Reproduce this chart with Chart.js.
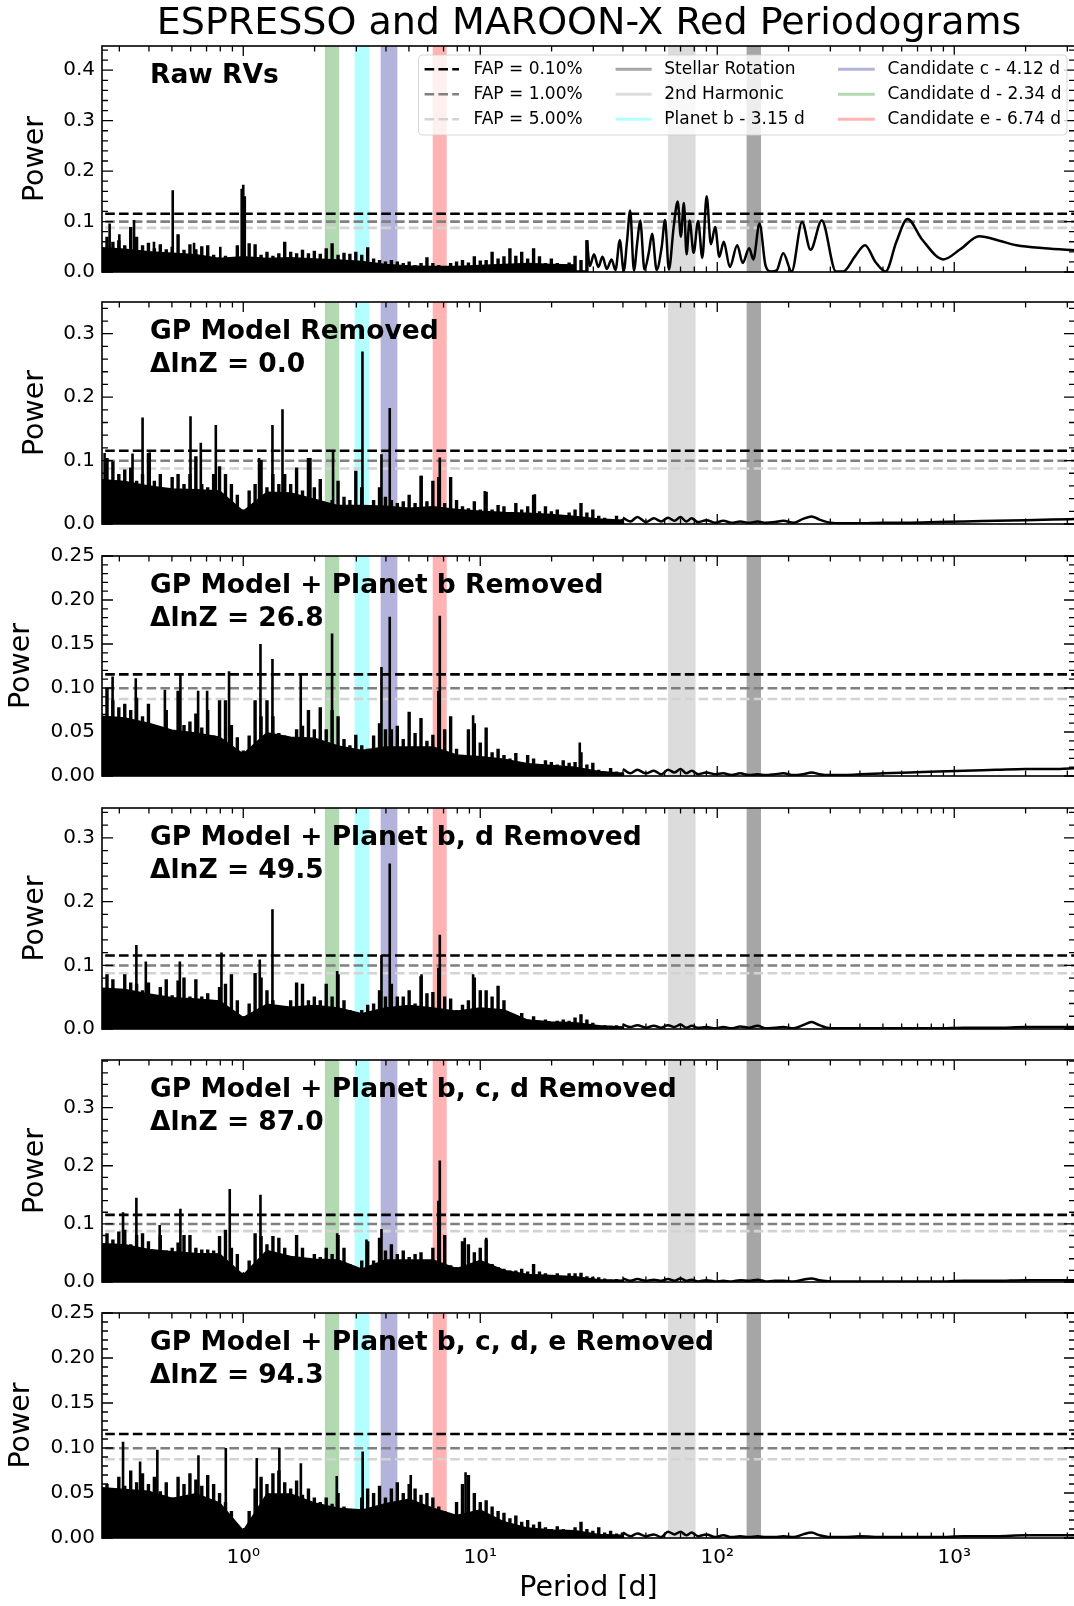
<!DOCTYPE html>
<html>
<head>
<meta charset="utf-8">
<script src="https://cdn.jsdelivr.net/npm/chart.js@4.4.1/dist/chart.umd.min.js"></script>
<style>
  html, body { margin: 0; padding: 0; background: #fff; width: 1074px; height: 1606px; overflow: hidden; }
  canvas { position: absolute; left: 0; }
</style>
</head>
<body>
<script>
// ---- data ----
const xMin = 0.2535, xMax = 3232;
const decadeTicks = [1, 10, 100, 1000];
const decadeLabels = ['10\u2070', '10\u00b9', '10\u00b2', '10\u00b3'];

const fapLevels = [0.1155, 0.0998, 0.0875];
const fapColors = ['#000000', '#808080', '#d3d3d3'];
const fapLabels = ['FAP = 0.10%', 'FAP = 1.00%', 'FAP = 5.00%'];

const bandNames = ['Stellar Rotation', '2nd Harmonic', 'Planet b - 3.15 d',
                   'Candidate c - 4.12 d', 'Candidate d - 2.34 d', 'Candidate e - 6.74 d'];
const bandLo = [133, 62, 2.95, 3.80, 2.21, 6.30];
const bandHi = [153, 81, 3.40, 4.47, 2.54, 7.22];
const bandColors = ['#a6a6a6', '#dcdcdc', '#b3ffff', '#b3b3dc', '#b3d9b3', '#ffb3b3'];

const panelTitles = ['Raw RVs', 'GP Model Removed', 'GP Model + Planet b Removed',
                     'GP Model + Planet b, d Removed', 'GP Model + Planet b, c, d Removed',
                     'GP Model + Planet b, c, d, e Removed'];
const panelDeltaLnZ = [null, '0.0', '26.8', '49.5', '87.0', '94.3'];
const yMaxes = [0.448, 0.35, 0.25, 0.347, 0.382, 0.25];
const yMajor = [0.1, 0.1, 0.05, 0.1, 0.1, 0.05];
const yMinor = [0.02, 0.02, 0.01, 0.02, 0.02, 0.01];
const yDecimals = [1, 1, 2, 1, 1, 2];

// short-period grid (days): local peak heights of the dense forest
const densePeriods = [
  0.2512, 0.2661, 0.2818, 0.2985, 0.3162, 0.3350, 0.3548, 0.3758, 0.3981, 0.4217,
  0.4467, 0.4732, 0.5012, 0.5309, 0.5623, 0.5957, 0.6310, 0.6683, 0.7079, 0.7499,
  0.7943, 0.8414, 0.8913, 0.9441, 1.000, 1.059, 1.122, 1.189, 1.259, 1.334,
  1.413, 1.496, 1.585, 1.679, 1.778, 1.884, 1.995, 2.113, 2.239, 2.371,
  2.512, 2.661, 2.818, 2.985, 3.162, 3.350, 3.548, 3.758, 3.981, 4.217,
  4.467, 4.732, 5.012, 5.309, 5.623, 5.957, 6.310, 6.683, 7.079, 7.499,
  7.943, 8.414, 8.913, 9.441, 10.00, 10.59, 11.22, 11.89, 12.59, 13.34,
  14.13, 14.96, 15.85, 16.79, 17.78, 18.84, 19.95, 21.13, 22.39, 23.71,
  25.12, 26.61, 28.18, 29.85, 31.62, 33.50, 35.48, 37.58, 39.81
];

const dense1 = [
  0.076, 0.070, 0.060, 0.063, 0.053, 0.089, 0.070, 0.053, 0.058, 0.047,
  0.055, 0.045, 0.050, 0.075, 0.044, 0.055, 0.045, 0.051, 0.053, 0.034,
  0.029, 0.032, 0.025, 0.053, 0.090, 0.057, 0.055, 0.034, 0.040, 0.032,
  0.037, 0.060, 0.040, 0.037, 0.044, 0.037, 0.042, 0.036, 0.047, 0.057,
  0.034, 0.038, 0.036, 0.040, 0.034, 0.049, 0.027, 0.024, 0.021, 0.024,
  0.021, 0.018, 0.021, 0.014, 0.018, 0.029, 0.018, 0.014, 0.012, 0.018,
  0.021, 0.024, 0.019, 0.031, 0.023, 0.024, 0.040, 0.027, 0.031, 0.047,
  0.032, 0.040, 0.027, 0.047, 0.031, 0.018, 0.027, 0.018, 0.014, 0.019,
  0.032, 0.024, 0.063
];
const dense2 = [
  0.109, 0.104, 0.099, 0.079, 0.086, 0.089, 0.068, 0.079, 0.112, 0.068,
  0.079, 0.053, 0.074, 0.079, 0.063, 0.079, 0.107, 0.063, 0.058, 0.079,
  0.091, 0.079, 0.063, 0.046, 0.023, 0.053, 0.063, 0.101, 0.058, 0.079,
  0.063, 0.079, 0.063, 0.089, 0.053, 0.104, 0.058, 0.071, 0.033, 0.038,
  0.068, 0.043, 0.038, 0.084, 0.058, 0.028, 0.038, 0.058, 0.043, 0.038,
  0.033, 0.036, 0.046, 0.033, 0.076, 0.036, 0.068, 0.074, 0.033, 0.074,
  0.038, 0.028, 0.025, 0.036, 0.023, 0.051, 0.023, 0.030, 0.028, 0.018,
  0.033, 0.023, 0.028, 0.046, 0.020, 0.028, 0.020, 0.023, 0.013, 0.018,
  0.023, 0.033, 0.018, 0.023, 0.013, 0.010, 0.008, 0.013, 0.008
];
const dense3 = [
  0.071, 0.100, 0.086, 0.078, 0.082, 0.075, 0.089, 0.068, 0.082, 0.058,
  0.055, 0.075, 0.049, 0.097, 0.058, 0.062, 0.071, 0.055, 0.075, 0.046,
  0.086, 0.086, 0.058, 0.044, 0.029, 0.046, 0.086, 0.068, 0.086, 0.068,
  0.049, 0.046, 0.027, 0.053, 0.057, 0.075, 0.053, 0.078, 0.053, 0.075,
  0.068, 0.042, 0.035, 0.047, 0.035, 0.031, 0.046, 0.060, 0.053, 0.053,
  0.057, 0.042, 0.073, 0.049, 0.066, 0.040, 0.047, 0.097, 0.053, 0.068,
  0.031, 0.024, 0.053, 0.060, 0.038, 0.055, 0.027, 0.031, 0.024, 0.020,
  0.026, 0.016, 0.024, 0.020, 0.013, 0.018, 0.016, 0.013, 0.018, 0.015,
  0.016, 0.027, 0.013, 0.015, 0.007, 0.005, 0.009, 0.005, 0.004
];
const dense4 = [
  0.078, 0.086, 0.078, 0.063, 0.086, 0.073, 0.071, 0.061, 0.073, 0.053,
  0.066, 0.078, 0.053, 0.076, 0.081, 0.051, 0.078, 0.051, 0.056, 0.045,
  0.066, 0.071, 0.086, 0.045, 0.020, 0.040, 0.088, 0.081, 0.061, 0.045,
  0.035, 0.033, 0.045, 0.073, 0.071, 0.045, 0.051, 0.045, 0.071, 0.051,
  0.086, 0.045, 0.030, 0.023, 0.030, 0.038, 0.040, 0.061, 0.051, 0.071,
  0.051, 0.051, 0.061, 0.040, 0.083, 0.056, 0.058, 0.096, 0.051, 0.048,
  0.030, 0.038, 0.045, 0.081, 0.061, 0.061, 0.051, 0.068, 0.045, 0.020,
  0.018, 0.025, 0.015, 0.020, 0.013, 0.015, 0.010, 0.013, 0.015, 0.013,
  0.018, 0.023, 0.015, 0.010, 0.006, 0.006, 0.005, 0.006, 0.004
];
const dense5 = [
  0.076, 0.084, 0.073, 0.087, 0.090, 0.065, 0.081, 0.084, 0.070, 0.054,
  0.081, 0.054, 0.059, 0.068, 0.081, 0.081, 0.059, 0.056, 0.056, 0.054,
  0.079, 0.090, 0.059, 0.048, 0.015, 0.037, 0.084, 0.079, 0.065, 0.079,
  0.076, 0.059, 0.031, 0.081, 0.059, 0.037, 0.048, 0.043, 0.059, 0.048,
  0.081, 0.059, 0.031, 0.023, 0.037, 0.070, 0.037, 0.076, 0.054, 0.065,
  0.048, 0.054, 0.043, 0.048, 0.051, 0.037, 0.059, 0.140, 0.081, 0.029,
  0.026, 0.070, 0.065, 0.051, 0.059, 0.073, 0.031, 0.026, 0.023, 0.020,
  0.020, 0.023, 0.018, 0.031, 0.018, 0.015, 0.012, 0.015, 0.009, 0.015,
  0.015, 0.016, 0.010, 0.009, 0.008, 0.006, 0.004, 0.005, 0.004
];
const dense6 = [
  0.065, 0.060, 0.055, 0.068, 0.058, 0.075, 0.062, 0.072, 0.060, 0.068,
  0.052, 0.062, 0.045, 0.068, 0.060, 0.072, 0.065, 0.058, 0.070, 0.060,
  0.050, 0.040, 0.030, 0.012, 0.010, 0.030, 0.055, 0.068, 0.060, 0.072,
  0.075, 0.062, 0.055, 0.064, 0.048, 0.055, 0.045, 0.040, 0.045, 0.038,
  0.050, 0.035, 0.030, 0.016, 0.045, 0.055, 0.050, 0.058, 0.045, 0.055,
  0.062, 0.050, 0.060, 0.055, 0.048, 0.050, 0.045, 0.035, 0.030, 0.018,
  0.040, 0.060, 0.070, 0.050, 0.040, 0.042, 0.035, 0.030, 0.028, 0.022,
  0.025, 0.018, 0.020, 0.015, 0.018, 0.012, 0.010, 0.013, 0.010, 0.008,
  0.012, 0.018, 0.010, 0.008, 0.012, 0.006, 0.008, 0.005, 0.006
];

// solid lower level of the forest, on a coarser grid
const floorPeriods = [0.2512, 0.3162, 0.3981, 0.5012, 0.6310, 0.7943, 1.000, 1.259, 1.585, 1.995,
  2.512, 3.162, 3.981, 5.012, 6.310, 7.943, 10.00, 12.59, 15.85, 19.95, 25.12, 31.62, 39.81];
const floor1 = [0.048, 0.045, 0.040, 0.037, 0.034, 0.027, 0.030, 0.027, 0.028, 0.026, 0.024, 0.021,
  0.015, 0.012, 0.011, 0.011, 0.013, 0.015, 0.017, 0.015, 0.014];
const floor2 = [0.070, 0.067, 0.060, 0.055, 0.054, 0.052, 0.020, 0.050, 0.049, 0.039, 0.029, 0.029,
  0.028, 0.025, 0.027, 0.023, 0.020, 0.018, 0.017, 0.015, 0.012, 0.008, 0.006];
const floor3 = [0.068, 0.066, 0.060, 0.052, 0.049, 0.044, 0.025, 0.049, 0.044, 0.043, 0.034, 0.029,
  0.033, 0.033, 0.033, 0.024, 0.022, 0.019, 0.014, 0.012, 0.010, 0.005, 0.003];
const floor4 = [0.064, 0.062, 0.055, 0.049, 0.047, 0.044, 0.018, 0.039, 0.034, 0.037, 0.033, 0.024,
  0.033, 0.037, 0.033, 0.028, 0.033, 0.030, 0.014, 0.011, 0.010, 0.005, 0.003];
const floor5 = [0.066, 0.064, 0.056, 0.052, 0.049, 0.048, 0.012, 0.054, 0.044, 0.039, 0.038, 0.022,
  0.038, 0.038, 0.038, 0.023, 0.037, 0.020, 0.013, 0.011, 0.009, 0.004, 0.003];
const floor6 = [0.056, 0.054, 0.052, 0.044, 0.049, 0.039, 0.008, 0.049, 0.049, 0.039, 0.033, 0.031,
  0.038, 0.043, 0.033, 0.025, 0.031, 0.018, 0.011, 0.009, 0.008, 0.004, 0.003];

// narrow peaks [period (d), power]
const spikes1 = [[0.273, 0.096], [0.300, 0.075], [0.346, 0.103], [0.420, 0.060], [0.504, 0.162],
  [0.620, 0.058], [0.800, 0.050], [0.985, 0.165], [1.000, 0.173], [1.015, 0.150]];
const spikes2 = [[0.260, 0.112], [0.341, 0.111], [0.376, 0.168], [0.403, 0.113], [0.599, 0.170],
  [0.662, 0.128], [0.766, 0.156], [1.166, 0.104], [1.328, 0.156], [1.464, 0.181], [1.920, 0.104],
  [2.393, 0.114], [3.184, 0.272], [3.830, 0.110], [4.150, 0.183], [5.650, 0.076], [6.750, 0.105],
  [10.45, 0.052], [17.00, 0.047]];
const spikes3 = [[0.281, 0.113], [0.352, 0.111], [0.467, 0.098], [0.543, 0.115], [0.645, 0.097],
  [0.704, 0.097], [0.871, 0.119], [1.182, 0.150], [1.328, 0.133], [1.748, 0.117], [2.370, 0.162],
  [3.830, 0.124], [4.150, 0.181], [6.750, 0.182], [9.330, 0.069], [26.30, 0.038]];
const spikes4 = [[0.354, 0.132], [0.388, 0.106], [0.540, 0.106], [0.809, 0.120], [1.174, 0.109],
  [1.328, 0.188], [2.490, 0.091], [3.830, 0.116], [4.150, 0.260], [5.650, 0.086], [6.750, 0.148],
  [9.330, 0.086]];
const spikes5 = [[0.311, 0.120], [0.354, 0.145], [0.444, 0.098], [0.543, 0.126], [0.877, 0.160],
  [1.182, 0.150], [2.490, 0.084], [3.310, 0.073], [3.830, 0.091], [6.750, 0.209], [8.600, 0.076],
  [10.60, 0.076]];
const spikes6 = [[0.311, 0.107], [0.367, 0.085], [0.434, 0.098], [0.647, 0.092], [0.844, 0.100],
  [1.140, 0.089], [1.420, 0.100], [1.750, 0.083], [2.480, 0.069], [3.190, 0.096], [5.090, 0.070],
  [8.670, 0.073]];

// long-period part of the raw periodogram
const long1 = [[28.18, 0.063], [29.0, 0.012], [30.2, 0.035], [31.5, 0.010], [32.8, 0.030],
  [34.2, 0.006], [35.8, 0.025], [37.2, 0.004], [38.8, 0.063], [40.3, 0.002], [41.6, 0.060],
  [42.9, 0.122], [44.5, 0.003], [46.0, 0.060], [47.3, 0.102], [49.3, 0.005], [51.5, 0.040],
  [53.1, 0.076], [55.5, 0.004], [58.3, 0.050], [60.2, 0.103], [62.5, 0.005], [65.5, 0.090],
  [68.1, 0.140], [70.2, 0.070], [72.3, 0.137], [74.2, 0.035], [76.4, 0.102], [79.5, 0.038],
  [83.0, 0.101], [86.5, 0.028], [90.2, 0.150], [94.0, 0.055], [98.0, 0.089], [102, 0.030],
  [106.5, 0.060], [113, 0.010], [121.4, 0.053], [128, 0.018], [136.4, 0.047], [142, 0.025],
  [150.7, 0.096], [160, 0.012], [168, 0.001], [178, 0.003], [189.8, 0.037], [206, 0.001],
  [228, 0.099], [247.6, 0.044], [276, 0.102], [317, 0.001], [340, 0.001], [380, 0.030],
  [420, 0.053], [465, 0.020], [513, 0.001], [570, 0.060], [635, 0.105], [730, 0.065],
  [900, 0.025], [1060, 0.045], [1274, 0.071], [1550, 0.062], [1832, 0.053], [2400, 0.047],
  [3300, 0.043]];

// long-period part of the residual periodograms
const longPeriods = [40, 43, 46, 50, 54, 58, 62, 66, 70, 74, 78, 83, 90, 98, 106, 115, 125, 136,
  148, 160, 175, 190, 210, 230, 250, 270, 300, 340, 400, 500, 650, 850, 1100, 1500, 2000, 2600, 3300];
const long2 = [0.010, 0.004, 0.011, 0.003, 0.009, 0.004, 0.010, 0.005, 0.011, 0.004, 0.009, 0.003,
  0.006, 0.002, 0.005, 0.002, 0.004, 0.002, 0.004, 0.002, 0.003, 0.005, 0.002, 0.008, 0.012, 0.007,
  0.002, 0.001, 0.001, 0.002, 0.002, 0.003, 0.004, 0.005, 0.006, 0.007, 0.008];
const long3 = [0.008, 0.003, 0.007, 0.003, 0.006, 0.002, 0.007, 0.004, 0.008, 0.003, 0.006, 0.002,
  0.004, 0.002, 0.003, 0.001, 0.003, 0.001, 0.002, 0.001, 0.002, 0.003, 0.001, 0.002, 0.004, 0.002,
  0.001, 0.001, 0.002, 0.003, 0.004, 0.005, 0.006, 0.007, 0.008, 0.008, 0.009];
const long4 = [0.007, 0.003, 0.006, 0.002, 0.005, 0.002, 0.006, 0.003, 0.007, 0.002, 0.005, 0.002,
  0.003, 0.001, 0.003, 0.001, 0.004, 0.002, 0.005, 0.001, 0.002, 0.003, 0.001, 0.006, 0.011, 0.006,
  0.001, 0.001, 0.001, 0.001, 0.001, 0.001, 0.002, 0.002, 0.003, 0.003, 0.003];
const long5 = [0.006, 0.002, 0.005, 0.002, 0.004, 0.002, 0.005, 0.002, 0.006, 0.002, 0.004, 0.001,
  0.003, 0.001, 0.002, 0.001, 0.003, 0.002, 0.004, 0.001, 0.002, 0.002, 0.001, 0.004, 0.006, 0.003,
  0.001, 0.001, 0.001, 0.001, 0.001, 0.001, 0.002, 0.002, 0.003, 0.003, 0.003];
const long6 = [0.006, 0.002, 0.005, 0.002, 0.004, 0.001, 0.007, 0.004, 0.007, 0.003, 0.006, 0.002,
  0.004, 0.001, 0.003, 0.001, 0.002, 0.001, 0.002, 0.001, 0.001, 0.002, 0.001, 0.004, 0.006, 0.003,
  0.001, 0.001, 0.002, 0.001, 0.001, 0.001, 0.002, 0.002, 0.003, 0.003, 0.003];

const denseSets = [dense1, dense2, dense3, dense4, dense5, dense6];
const floorSets = [floor1, floor2, floor3, floor4, floor5, floor6];
const spikeSets = [spikes1, spikes2, spikes3, spikes4, spikes5, spikes6];
const longSets = [null, long2, long3, long4, long5, long6];

// ---- layout ----
const panelTop = [46, 298, 552, 804, 1056, 1309];
const panelBottom = [276, 528, 780, 1033, 1286, 1538];
const FONT = '"DejaVu Sans", sans-serif';

Chart.defaults.font.family = FONT;
Chart.defaults.color = '#000';

function drawTicks(ctx, a, xs, ys, p) {
  ctx.strokeStyle = '#000';
  ctx.lineWidth = 1.3;
  ctx.beginPath();
  for (let e = -1; e <= 3; e++) {
    for (let m = 1; m <= 9; m++) {
      const v = m * Math.pow(10, e);
      if (v < xMin || v > xMax) continue;
      const px = xs.getPixelForValue(v);
      const len = m === 1 ? 10 : 5.5;
      ctx.moveTo(px, a.bottom); ctx.lineTo(px, a.bottom - len);
      ctx.moveTo(px, a.top); ctx.lineTo(px, a.top + len);
    }
  }
  const n = Math.floor(yMaxes[p] / yMinor[p] + 1e-6);
  const per = Math.round(yMajor[p] / yMinor[p]);
  for (let k = 0; k <= n; k++) {
    const py = ys.getPixelForValue(k * yMinor[p]);
    const len = k % per === 0 ? 11 : 6;
    ctx.moveTo(a.left, py); ctx.lineTo(a.left + len, py);
    ctx.moveTo(a.right, py); ctx.lineTo(a.right - len, py);
  }
  ctx.stroke();
}

function drawLegend(ctx) {
  const bx = 418.5, by = 55, bw = 648.5, bh = 80;
  ctx.save();
  ctx.beginPath();
  ctx.roundRect(bx, by, bw, bh, 4);
  ctx.fillStyle = 'rgba(255,255,255,0.8)';
  ctx.fill();
  ctx.strokeStyle = 'rgba(204,204,204,0.8)';
  ctx.lineWidth = 1;
  ctx.stroke();

  const rows = [69.3, 94.3, 119.3];
  const cols = [[424.6, 459, 473.5], [615.6, 651.7, 664.3], [838, 874.8, 887.4]];
  ctx.font = '17px ' + FONT;
  ctx.textBaseline = 'middle';
  ctx.fillStyle = '#000';
  for (let r = 0; r < 3; r++) {
    ctx.setLineDash([9.6, 4.2]);
    ctx.lineWidth = 2.6;
    ctx.strokeStyle = fapColors[r];
    ctx.beginPath(); ctx.moveTo(cols[0][0], rows[r]); ctx.lineTo(cols[0][1], rows[r]); ctx.stroke();
    ctx.setLineDash([]);
    ctx.fillText(fapLabels[r], cols[0][2], rows[r]);
    for (let c = 1; c < 3; c++) {
      const k = (c - 1) * 3 + r;
      ctx.lineWidth = 3;
      ctx.strokeStyle = bandColors[k];
      ctx.beginPath(); ctx.moveTo(cols[c][0], rows[r]); ctx.lineTo(cols[c][1], rows[r]); ctx.stroke();
      ctx.fillText(bandNames[k], cols[c][2], rows[r]);
    }
  }
  ctx.restore();
}

const decor = {
  id: 'decor',
  beforeDatasetsDraw(chart) {
    const { ctx, chartArea: a, scales: { x } } = chart;
    ctx.save();
    ctx.beginPath(); ctx.rect(a.left, a.top, a.width, a.height); ctx.clip();
    bandLo.forEach((lo, k) => {
      const x0 = x.getPixelForValue(lo), x1 = x.getPixelForValue(bandHi[k]);
      ctx.fillStyle = bandColors[k];
      ctx.fillRect(x0, a.top, x1 - x0, a.height);
    });
    ctx.restore();
  },
  afterDatasetsDraw(chart, args, opts) {
    const p = opts.panel;
    const { ctx, chartArea: a, scales: { x, y } } = chart;
    ctx.save();
    drawTicks(ctx, a, x, y, p);
    ctx.lineWidth = 1.6;
    ctx.strokeStyle = '#000';
    ctx.strokeRect(a.left, a.top, a.width, a.height);

    ctx.fillStyle = '#000';
    ctx.textBaseline = 'alphabetic';
    ctx.font = 'bold 26.5px ' + FONT;
    ctx.fillText(panelTitles[p], 150, a.top + 36.5);
    if (panelDeltaLnZ[p] !== null) {
      ctx.fillText('\u0394lnZ = ' + panelDeltaLnZ[p], 150, a.top + 69.8);
    }
    if (p === 0) {
      drawLegend(ctx);
      ctx.font = '38px ' + FONT;
      ctx.textAlign = 'center';
      ctx.fillText('ESPRESSO and MAROON-X Red Periodograms', 589, 34);
    }
    ctx.restore();
  }
};

const toPoints = (xs, ys) => ys.map((v, i) => ({ x: xs[i], y: v }));
const toSpikes = (xs, ys) => ys.flatMap((v, i) => [{ x: xs[i], y: 0 }, { x: xs[i], y: v }, { x: xs[i], y: 0 }]);

function makePanel(p) {
  const padTop = p === 0 ? panelTop[0] : 15;
  const padBottom = p === 5 ? 1606 - panelBottom[5] : 15;
  const canvas = document.createElement('canvas');
  canvas.width = 1076;
  canvas.height = panelBottom[p] - panelTop[p] + padTop + padBottom;
  canvas.style.top = (panelTop[p] - padTop) + 'px';
  document.body.appendChild(canvas);

  const datasets = fapLevels.map((lvl, k) => ({
    data: [{ x: 0.2, y: lvl }, { x: 4000, y: lvl }],
    borderColor: fapColors[k], borderWidth: 2.6, borderDash: [9.6, 4.2],
    fill: false, order: 10
  }));

  // solid floor of the forest
  datasets.push({
    data: toPoints(floorPeriods, floorSets[p]),
    borderColor: '#000', backgroundColor: '#000', borderWidth: 1.5,
    fill: 'origin', order: 4
  });

  // forest of local peaks
  datasets.push({
    data: toSpikes(densePeriods, denseSets[p]),
    borderColor: '#000', borderWidth: 3.4, borderJoinStyle: 'bevel', fill: false, order: 3
  });

  // tall isolated peaks
  const sp = spikeSets[p];
  datasets.push({
    data: toSpikes(sp.map(s => s[0]), sp.map(s => s[1])),
    borderColor: '#000', borderWidth: 2.6, borderJoinStyle: 'bevel', fill: false, order: 2
  });

  const longData = p === 0
    ? long1.map(([px, py]) => ({ x: px, y: py }))
    : toPoints(longPeriods, longSets[p]);
  datasets.push({
    data: longData,
    borderColor: '#000', borderWidth: 2.5, cubicInterpolationMode: 'monotone',
    fill: false, order: 1
  });

  const twoDec = yDecimals[p] === 2;
  new Chart(canvas, {
    type: 'line',
    data: { datasets },
    options: {
      responsive: false,
      animation: false,
      devicePixelRatio: 1,
      events: [],
      layout: { padding: { top: padTop, left: 0, right: 1, bottom: 0 } },
      elements: { point: { radius: 0 }, line: { tension: 0 } },
      plugins: { legend: { display: false }, tooltip: { enabled: false }, decor: { panel: p } },
      scales: {
        x: {
          type: 'logarithmic', min: xMin, max: xMax, offset: false,
          grid: { display: false, drawTicks: false }, border: { display: false },
          afterBuildTicks: s => { s.ticks = decadeTicks.map(v => ({ value: v })); },
          ticks: {
            display: p === 5, autoSkip: false, maxRotation: 0, padding: 8,
            font: { size: 20 },
            callback: (v, i) => decadeLabels[i]
          },
          title: { display: p === 5, text: 'Period [d]', font: { size: 28.5 }, padding: { top: 0, bottom: 0 } },
          afterFit: s => { s.height = padBottom; }
        },
        y: {
          min: 0, max: yMaxes[p],
          grid: { display: false, drawTicks: false }, border: { display: false },
          ticks: {
            stepSize: yMajor[p], includeBounds: false, padding: 7,
            font: { size: 20 },
            callback: v => Number(v).toFixed(yDecimals[p])
          },
          title: { display: true, text: 'Power', font: { size: 28.5 }, padding: { top: twoDec ? 4.4 : 18.7, bottom: 0 } },
          afterFit: s => { s.width = 102; }
        }
      }
    },
    plugins: [decor]
  });
}

for (let p = 0; p < 6; p++) makePanel(p);
</script>
</body>
</html>
